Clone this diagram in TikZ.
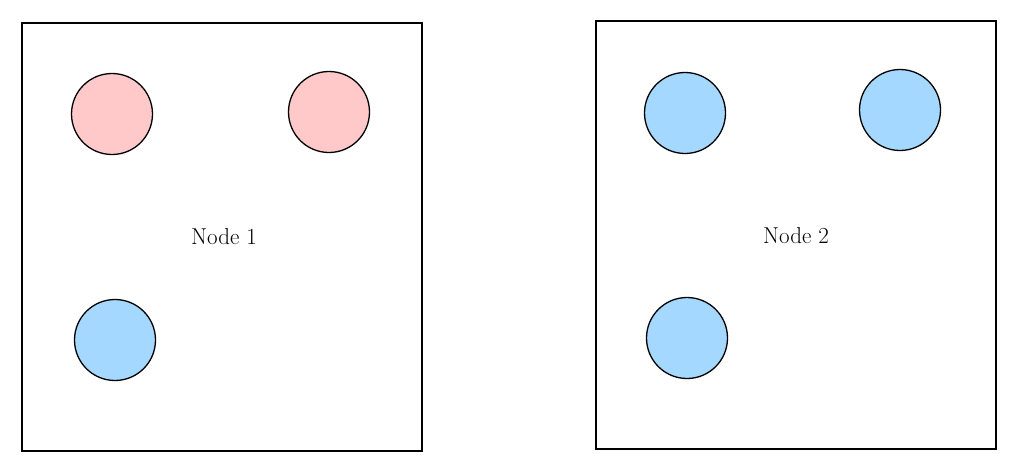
\documentclass[tikz,border=0pt]{standalone}
\usepackage{fontspec}
\usepackage{tikz}
\definecolor{sininen}{HTML}{A5D8FF}
\definecolor{punainen}{HTML}{FFC9C9}
\tikzset{
	laatikko/.style={draw, line width=1.3pt, minimum width=400pt, minimum height=428pt, inner sep=0pt},
	pallo/.style={circle, draw, line width=1.3pt, minimum size=81pt, inner sep=0pt},
	teksti/.style={font=\fontsize{23}{27}\selectfont}
}

\begin{document}
\begin{tikzpicture}[x=1pt,y=-1pt]
				\useasboundingbox (0,0) rectangle (1024,474);
				\node[laatikko] (laatikko1) at (222,237) {};
				\node[laatikko] (laatikko2) at (796,235) {};
				\node[pallo, fill=punainen] (pallo11) at (112,114) {};
				\node[pallo, fill=punainen] (pallo12) at (329,112) {};
				\node[pallo, fill=sininen] (pallo13) at (115,340) {};
				\node[pallo, fill=sininen] (pallo21) at (685,113) {};
				\node[pallo, fill=sininen] (pallo22) at (900,110) {};
				\node[pallo, fill=sininen] (pallo23) at (687,338) {};
				\node[teksti] (nimi1) at (224,237) {Node 1};
				\node[teksti] (nimi2) at (796,236) {Node 2};
			\end{tikzpicture}
\end{document}
